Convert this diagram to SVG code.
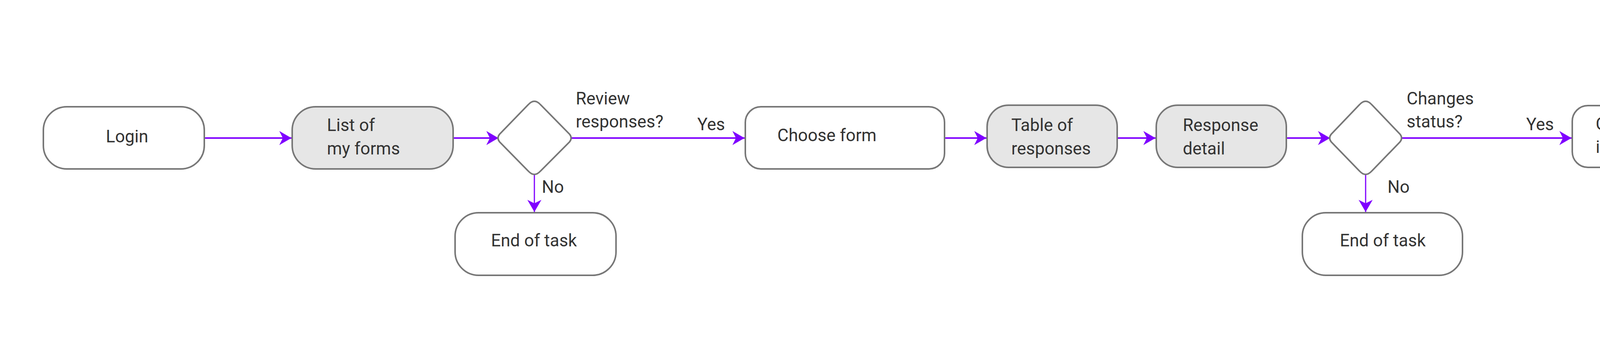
<svg xmlns="http://www.w3.org/2000/svg" width="5130" height="872" viewBox="0 0 5130 872">
<defs>
<style>
.n{fill:#fff;stroke:#777;stroke-width:4}
.g{fill:#e6e6e6}
text{font-family:Roboto,"Liberation Sans",sans-serif;font-size:44px;fill:#333}
.c{stroke:#7f00ff;stroke-width:4;fill:none}
.v{stroke-width:3}
</style>
<marker id="a" markerUnits="userSpaceOnUse" markerWidth="32" markerHeight="38" refX="31" refY="19" orient="auto" viewBox="0 0 32 38">
<path d="M0,1 L31,19 L0,37 L9,19 z" fill="#7f00ff"/>
</marker>
</defs>
<rect width="5130" height="872" fill="#fff"/>
<g id="connectors">
<line class="c" x1="523" y1="353" x2="746" y2="353" marker-end="url(#a)"/>
<line class="c" x1="1160" y1="353" x2="1276" y2="353" marker-end="url(#a)"/>
<line class="c" x1="1460" y1="353" x2="1906" y2="353" marker-end="url(#a)"/>
<line class="c v" x1="1368" y1="445" x2="1368" y2="542" marker-end="url(#a)"/>
<line class="c" x1="2418" y1="353" x2="2525" y2="353" marker-end="url(#a)"/>
<line class="c" x1="2860" y1="353" x2="2958" y2="353" marker-end="url(#a)"/>
<line class="c" x1="3293" y1="353" x2="3405" y2="353" marker-end="url(#a)"/>
<line class="c" x1="3586" y1="353" x2="4023" y2="353" marker-end="url(#a)"/>
<line class="c v" x1="3496" y1="445" x2="3496" y2="542" marker-end="url(#a)"/>
<line class="c" x1="4557" y1="353" x2="4658" y2="353" marker-end="url(#a)"/>
<text x="1474" y="267">Review</text>
<text x="1474" y="326">responses?</text>
<text x="1785" y="333">Yes</text>
<text x="1387" y="493">No</text>
<text x="3601" y="267">Changes</text>
<text x="3601" y="326">status?</text>
<text x="3907" y="333">Yes</text>
<text x="3552" y="493">No</text>
</g>
<g id="login"><rect class="n" x="111" y="273" width="412" height="159" rx="60"/><text x="271" y="364">Login</text></g>
<g id="list"><rect class="n g" x="748" y="273" width="412" height="159" rx="60"/><text x="837" y="335">List of</text><text x="837" y="395">my forms</text></g>
<g id="d1"><path class="n" d="M1352,268 Q1368,250 1384,268 L1458,343 Q1466,353 1458,363 L1384,437 Q1368,455 1352,437 L1279,363 Q1271,353 1279,343 Z"/></g>
<g id="end1"><rect class="n" x="1165" y="544" width="412" height="160" rx="60"/><text x="1257" y="630">End of task</text></g>
<g id="choose"><rect class="n" x="1908" y="273" width="510" height="159" rx="40"/><text x="1990" y="361">Choose form</text></g>
<g id="table"><rect class="n g" x="2527" y="269" width="333" height="159" rx="55"/><text x="2589" y="335">Table of</text><text x="2589" y="395">responses</text></g>
<g id="detail"><rect class="n g" x="2960" y="269" width="333" height="159" rx="55"/><text x="3028" y="335">Response</text><text x="3028" y="395">detail</text></g>
<g id="d2"><path class="n" d="M3480,268 Q3496,250 3512,268 L3584,343 Q3592,353 3584,363 L3512,437 Q3496,455 3480,437 L3408,363 Q3400,353 3408,343 Z"/></g>
<g id="end2"><rect class="n" x="3334" y="544" width="410" height="160" rx="60"/><text x="3430" y="630">End of task</text></g>
<g id="change"><rect class="n" x="4025" y="270" width="532" height="158" rx="40"/><text x="4085" y="332">Change status</text><text x="4085" y="391">in selector</text></g>
<g id="end3"><rect class="n" x="4660" y="273" width="404" height="159" rx="60"/><text x="4753" y="361">End of task</text></g>
</svg>
